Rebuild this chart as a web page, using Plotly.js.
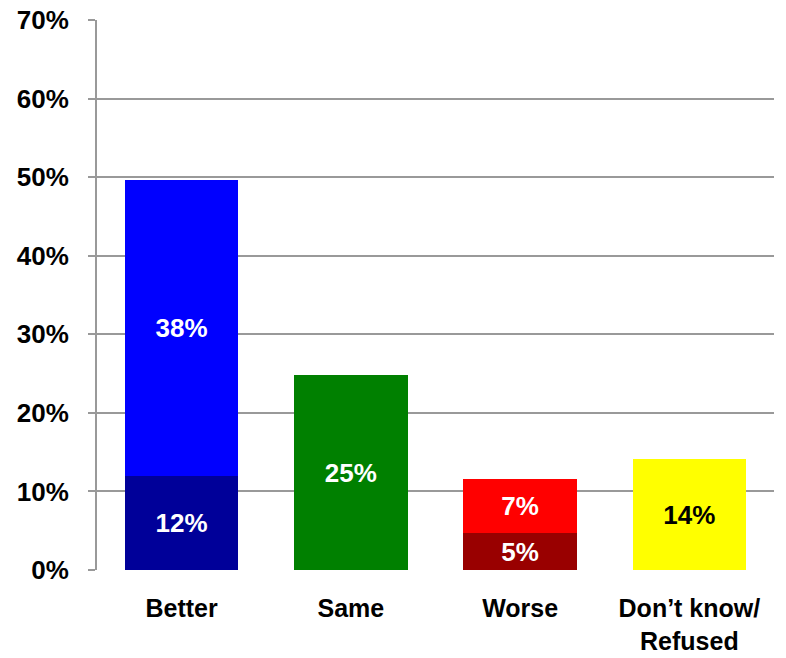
<!DOCTYPE html>
<html>
<head>
<meta charset="utf-8">
<script src="https://cdn.plot.ly/plotly-3.0.1.min.js"></script>
<style>html,body{margin:0;padding:0;background:#fff;}#chart{width:786px;height:658px;}</style>
</head>
<body>
<div id="chart"></div>
<script>
const categories = ['Better', 'Same', 'Worse', 'Don’t know/<br>Refused'];
const bottomValues = [12, 24.8, 4.7, 14.1];
const topValues = [37.7, null, 6.9, null];
const bottomColors = ['#000099', '#008000', '#990000', '#FFFF00'];
const topColors = ['#0000FF', '#008000', '#FF0000', '#FFFF00'];
const bottomTextColors = ['#FFFFFF', '#FFFFFF', '#FFFFFF', '#000000'];
const topTextColors = ['#FFFFFF', '#FFFFFF', '#FFFFFF', '#000000'];
const yTickVals = [0, 10, 20, 30, 40, 50, 60, 70];
const yTickText = ['0%', '10%', '20%', '30%', '40%', '50%', '60%', '70%'];

const font = 'Arial, "Liberation Sans", sans-serif';

const traces = [
  {
    type: 'bar', x: categories, y: bottomValues,
    marker: {color: bottomColors},
    texttemplate: '%{y:.0f}%', textposition: 'inside', insidetextanchor: 'middle',
    textfont: {family: font, size: 26, color: bottomTextColors, weight: 'bold'},
    hoverinfo: 'none', width: 0.67
  },
  {
    type: 'bar', x: categories, y: topValues,
    marker: {color: topColors},
    texttemplate: '%{y:.0f}%', textposition: 'inside', insidetextanchor: 'middle',
    textfont: {family: font, size: 26, color: topTextColors, weight: 'bold'},
    hoverinfo: 'none', width: 0.67
  }
];

const layout = {
  width: 786, height: 658,
  margin: {l: 97, r: 12, t: 20, b: 88},
  barmode: 'stack',
  showlegend: false,
  paper_bgcolor: '#fff', plot_bgcolor: '#fff',
  font: {family: font, color: '#000'},
  xaxis: {
    showgrid: false, zeroline: false,
    showline: false,
    ticks: '', ticklabelstandoff: 21,
    tickfont: {family: font, size: 25, color: '#000', weight: 'bold'},
    fixedrange: true
  },
  yaxis: {
    range: [0, 70],
    tickvals: yTickVals, ticktext: yTickText,
    showgrid: true, gridcolor: '#999999', gridwidth: 2,
    zeroline: false,
    showline: true, linecolor: '#999999', linewidth: 2,
    ticks: 'outside', ticklen: 7, tickcolor: '#999999', tickwidth: 2,
    ticklabelstandoff: 14,
    tickfont: {family: font, size: 26, color: '#000', weight: 'bold'},
    fixedrange: true
  }
};

Plotly.newPlot('chart', traces, layout, {displayModeBar: false, staticPlot: true});
</script>
</body>
</html>
